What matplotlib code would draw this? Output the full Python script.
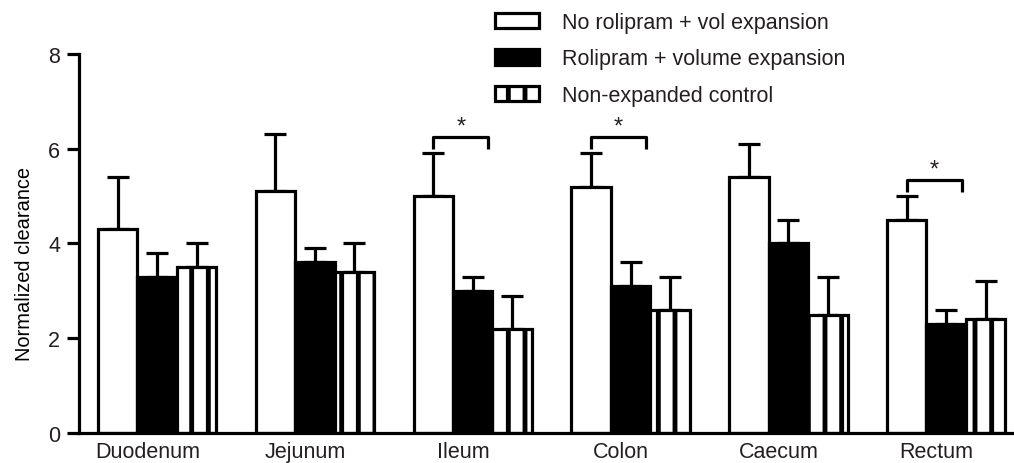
import matplotlib
matplotlib.use("Agg")
import matplotlib.pyplot as plt
import numpy as np

plt.rcParams["font.family"] = ["Liberation Sans", "DejaVu Sans"]
plt.rcParams["hatch.linewidth"] = 3.5
plt.rcParams["text.color"] = "#231f20"
plt.rcParams["xtick.labelcolor"] = "#231f20"
plt.rcParams["ytick.labelcolor"] = "#231f20"

regions = ["Duodenum", "Jejunum", "Ileum", "Colon", "Caecum", "Rectum"]
series = ["No rolipram + vol expansion", "Rolipram + volume expansion", "Non-expanded control"]

no_rolipram = [4.3, 5.1, 5.0, 5.2, 5.4, 4.5]
no_rolipram_err = [1.1, 1.2, 0.9, 0.7, 0.7, 0.5]
rolipram = [3.3, 3.6, 3.0, 3.1, 4.0, 2.3]
rolipram_err = [0.5, 0.3, 0.3, 0.5, 0.5, 0.3]
control = [3.5, 3.4, 2.2, 2.6, 2.5, 2.4]
control_err = [0.5, 0.6, 0.7, 0.7, 0.8, 0.8]

# significance brackets: (group index, bracket height)
sig = [(2, 6.25), (3, 6.25), (5, 5.34)]

fig = plt.figure(figsize=(10.14, 4.64), dpi=100)
ax = fig.add_axes([0.078, 0.0647, 0.922, 0.817])

x = np.arange(len(regions))
w = 0.25
lw = 2.3
fs = 15.5
styles = [
    dict(facecolor="white", hatch=None),
    dict(facecolor="black", hatch=None),
    dict(facecolor="white", hatch="|"),
]
vals = [no_rolipram, rolipram, control]
errs = [no_rolipram_err, rolipram_err, control_err]
handles = []
for i, (v, e, st) in enumerate(zip(vals, errs, styles)):
    pos = x + (i - 1) * w
    ax.errorbar(pos, v, yerr=[np.zeros(len(v)), e], fmt="none", ecolor="black",
                elinewidth=lw, capsize=8, capthick=lw, zorder=1)
    b = ax.bar(pos, v, width=w, edgecolor="black", linewidth=lw, zorder=2,
               label=series[i], **st)
    handles.append(b)

for g, h in sig:
    x0 = x[g] - w
    x1 = x[g] + 0.1
    ax.plot([x0, x0, x1, x1], [h - 0.25, h, h, h - 0.25], color="black",
            lw=lw, solid_capstyle="butt", zorder=3)
    ax.text((x0 + x1) / 2, h - 0.02, "*", ha="center", va="bottom",
            fontsize=17)

ax.set_xlim(-0.494, 5.43)
ax.set_ylim(0, 8)
ax.set_yticks([0, 2, 4, 6, 8])
ax.set_xticks(x - 0.06)
ax.set_xticklabels(regions)
ax.set_ylabel("Normalized clearance", fontsize=14.4)
ax.yaxis.set_label_coords(-0.048, 0.449)
ax.tick_params(axis="y", direction="out", length=8.5, width=lw, labelsize=fs, pad=5)
ax.tick_params(axis="x", length=0, labelsize=fs, pad=6)
for s in ["top", "right"]:
    ax.spines[s].set_visible(False)
for s in ["left", "bottom"]:
    ax.spines[s].set_linewidth(lw)
ax.spines["left"].set_bounds(0, 8)

fig.legend(handles=handles, loc="upper left", bbox_to_anchor=(0.488, 0.972),
           frameon=False, fontsize=fs, handlelength=2.05, handleheight=0.75,
           labelspacing=0.72, handletextpad=1.05, borderpad=0, borderaxespad=0)

fig.savefig("out.png", dpi=100)
